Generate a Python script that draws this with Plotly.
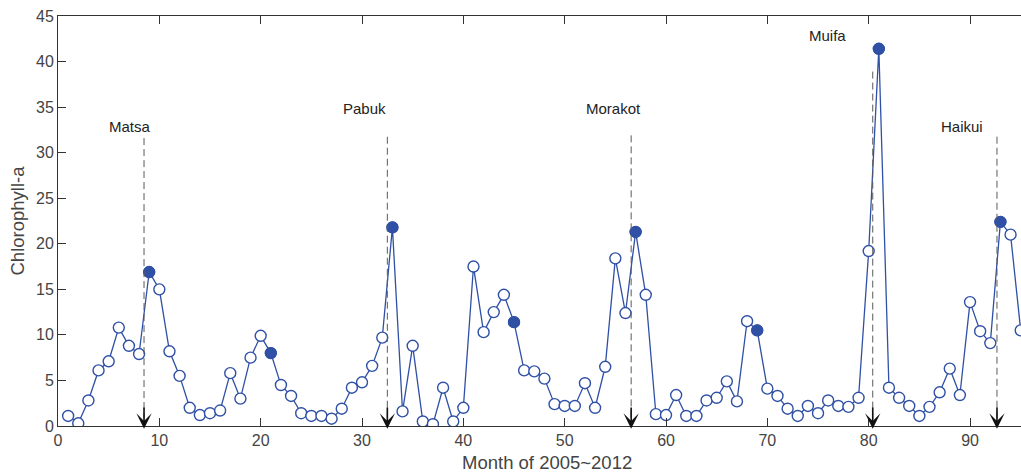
import plotly.graph_objects as go

months = list(range(1, 96))
chl = [1.1, 0.3, 2.8, 6.1, 7.1, 10.8, 8.8, 7.9, 16.9, 15.0,
       8.2, 5.5, 2.0, 1.2, 1.4, 1.7, 5.8, 3.0, 7.5, 9.9,
       8.0, 4.5, 3.3, 1.4, 1.1, 1.1, 0.8, 1.9, 4.2, 4.8,
       6.6, 9.7, 21.8, 1.6, 8.8, 0.5, 0.2, 4.2, 0.5, 2.0,
       17.5, 10.3, 12.5, 14.4, 11.4, 6.1, 6.0, 5.2, 2.4, 2.2,
       2.2, 4.7, 2.0, 6.5, 18.4, 12.4, 21.3, 14.4, 1.3, 1.2,
       3.4, 1.1, 1.1, 2.8, 3.1, 4.9, 2.7, 11.5, 10.5, 4.1,
       3.3, 1.9, 1.1, 2.2, 1.4, 2.8, 2.2, 2.1, 3.1, 19.2,
       41.4, 4.2, 3.1, 2.2, 1.1, 2.1, 3.7, 6.3, 3.4, 13.6,
       10.4, 9.1, 22.4, 21.0, 10.5]
typhoon_months = [9, 21, 33, 45, 57, 69, 81, 93]

typhoon_names = ["Matsa", "Pabuk", "Morakot", "Muifa", "Haikui"]
typhoon_x = [8.49, 32.5, 56.56, 80.4, 92.66]
typhoon_top = [31.6, 31.75, 31.9, 38.9, 31.75]
label_x = [7.09, 30.2, 54.8, 75.9, 89.25]
label_y = [32.85, 34.87, 34.87, 42.84, 32.85]

x_ticks = [0, 10, 20, 30, 40, 50, 60, 70, 80, 90]
y_ticks = [0, 5, 10, 15, 20, 25, 30, 35, 40, 45]

blue = "#2f50a5"
font_family = "Liberation Sans, Arial, sans-serif"

fig = go.Figure()
fig.add_trace(go.Scatter(
    x=months, y=chl, mode="lines+markers",
    line=dict(color=blue, width=1.3),
    marker=dict(symbol="circle", size=11, color="white",
                line=dict(color=blue, width=1.4)),
    showlegend=False, cliponaxis=True))

fx = [m for m in typhoon_months]
fy = [chl[m - 1] for m in typhoon_months]
fig.add_trace(go.Scatter(
    x=fx, y=fy, mode="markers",
    marker=dict(symbol="circle", size=11, color=blue,
                line=dict(color=blue, width=1)),
    showlegend=False))

for name, tx, top, lx, ly in zip(typhoon_names, typhoon_x, typhoon_top, label_x, label_y):
    fig.add_trace(go.Scatter(
        x=[tx, tx], y=[top, 0.8], mode="lines",
        line=dict(color="#5a5a5a", width=1, dash="7px,4px"),
        showlegend=False, hoverinfo="skip"))
    fig.add_annotation(x=tx, y=-0.3, ax=tx, ay=2.2, xref="x", yref="y",
                       axref="x", ayref="y", showarrow=True, arrowhead=3,
                       arrowsize=1.6, arrowwidth=1.6, arrowcolor="#111111", text="")
    fig.add_annotation(x=lx, y=ly, xref="x", yref="y", text=name,
                       showarrow=False, font=dict(size=15, color="#222222", family=font_family))

x_full = 96.6
fig.add_annotation(x=x_full / 2, y=0, xref="x", yref="paper", yanchor="middle",
                   yshift=-36, text="Month of 2005~2012", showarrow=False,
                   font=dict(size=18.5, color="#444444", family=font_family))

fig.update_xaxes(range=[0, 95.03], tickvals=x_ticks,
                 ticks="inside", ticklen=8, tickcolor="#333333", mirror="ticks",
                 showline=True, linecolor="#333333", linewidth=1, showgrid=False,
                 zeroline=False, tickfont=dict(size=16, color="#444444", family=font_family))
fig.update_yaxes(range=[0, 45], tickvals=y_ticks,
                 ticks="inside", ticklen=8, tickcolor="#333333", mirror=False,
                 showline=True, linecolor="#333333", linewidth=1, showgrid=False,
                 zeroline=False, tickfont=dict(size=16, color="#444444", family=font_family),
                 title=dict(text="Chlorophyll-a", standoff=6,
                            font=dict(size=18.5, color="#444444", family=font_family)))

fig.update_layout(width=1021, height=474, margin=dict(l=58, r=0, t=16, b=48),
                  plot_bgcolor="white", paper_bgcolor="white",
                  font=dict(family=font_family))
fig.write_html("out.html")
